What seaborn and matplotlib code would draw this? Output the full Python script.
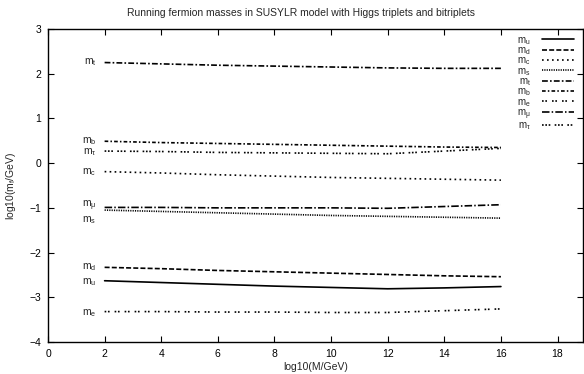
import matplotlib
matplotlib.use("Agg")
import matplotlib.pyplot as plt
import seaborn as sns
import pandas as pd
from matplotlib.lines import Line2D

# ---- data ----
scale = [2, 4, 6, 8, 10, 12, 14, 16]
m_u = [-2.63, -2.67, -2.71, -2.75, -2.78, -2.81, -2.79, -2.76]
m_d = [-2.33, -2.36, -2.40, -2.43, -2.46, -2.49, -2.52, -2.54]
m_c = [-0.19, -0.22, -0.26, -0.29, -0.32, -0.34, -0.36, -0.38]
m_s = [-1.05, -1.08, -1.11, -1.14, -1.17, -1.19, -1.21, -1.23]
m_t = [2.25, 2.22, 2.19, 2.17, 2.15, 2.13, 2.12, 2.12]
m_b = [0.49, 0.46, 0.44, 0.42, 0.40, 0.38, 0.36, 0.35]
m_e = [-3.32, -3.32, -3.33, -3.33, -3.34, -3.34, -3.30, -3.26]
m_mu = [-0.99, -0.99, -1.00, -1.00, -1.00, -1.01, -0.97, -0.93]
m_tau = [0.27, 0.26, 0.24, 0.23, 0.22, 0.21, 0.27, 0.33]

names = ["u", "d", "c", "s", "t", "b", "e", "mu", "tau"]
series = [m_u, m_d, m_c, m_s, m_t, m_b, m_e, m_mu, m_tau]
labels = [r"$\mathregular{m_u}$", r"$\mathregular{m_d}$", r"$\mathregular{m_c}$",
          r"$\mathregular{m_s}$", r"$\mathregular{m_t}$", r"$\mathregular{m_b}$",
          r"$\mathregular{m_e}$", r"$\mathregular{m_\mu}$", r"$\mathregular{m_\tau}$"]

title = "Running fermion masses in SUSYLR model with Higgs triplets and bitriplets"
xlabel = "log10(M/GeV)"
ylabel = r"log10(m$\mathregular{_f}$/GeV)"

# ---- styles ----
styles = {
    "u": "-",
    "d": (0, (3.0, 1.3)),
    "c": (0, (1.0, 2.0)),
    "s": (0, (0.7, 0.7)),
    "t": (0, (3.5, 1.3, 1.0, 1.3)),
    "b": (0, (2.2, 1.3, 0.9, 1.3)),
    "e": (0, (1.0, 1.0, 1.0, 3.0)),
    "mu": (0, (4.5, 1.3, 0.9, 1.3)),
    "tau": (0, (1.0, 1.0, 1.0, 1.0, 1.0, 2.6)),
}
label_offsets = {"u": -1, "d": 0, "c": 0, "s": -7, "t": 0, "b": 0, "e": -1, "mu": 1, "tau": -1}

sns.set_style("ticks")
plt.rcParams["font.family"] = ["Liberation Sans", "DejaVu Sans"]
plt.rcParams["mathtext.fontset"] = "custom"
plt.rcParams["mathtext.rm"] = "Liberation Sans"
plt.rcParams["mathtext.it"] = "Liberation Sans:italic"

fig = plt.figure(figsize=(5.84, 3.74), dpi=100)
ax = fig.add_axes([48 / 584, 1 - 342 / 374, (583 - 48) / 584, (342 - 29) / 374])

LW = 1.2
handles = []
for n, ys, lab in zip(names, series, labels):
    df = pd.DataFrame({"x": scale, "y": ys})
    sns.lineplot(data=df, x="x", y="y", ax=ax, color="black", linewidth=LW,
                 linestyle=styles[n], legend=False)
    handles.append(Line2D([0], [0], color="black", linewidth=LW, linestyle=styles[n]))
    ax.annotate(lab, xy=(scale[0], ys[0]), xytext=(-6, label_offsets[n]),
                textcoords="offset points", ha="right", va="center", fontsize=7.5)

ax.set_xlim(0, 18.9)
ax.set_ylim(-4, 3)
ax.set_xticks(range(0, 19, 2))
ax.set_yticks(range(-4, 4))
ax.tick_params(direction="in", length=4, width=0.8, top=True, right=True,
               labelsize=7.5, colors="black", pad=5)
for sp in ax.spines.values():
    sp.set_color("black")
    sp.set_linewidth(1.0)
ax.set_xlabel(xlabel, fontsize=7.5, labelpad=2)
ax.set_ylabel(ylabel, fontsize=7.5, labelpad=8)
fig.text(0.515, 0.965, title, ha="center", va="center", fontsize=7.5)

leg = ax.legend(handles, labels, loc="upper right", markerfirst=False, frameon=False,
                fontsize=7, handlelength=3.3, labelspacing=-0.15, handletextpad=1.2,
                borderaxespad=0.2, bbox_to_anchor=(0.995, 1.0))

fig.savefig("out.png", dpi=100)
